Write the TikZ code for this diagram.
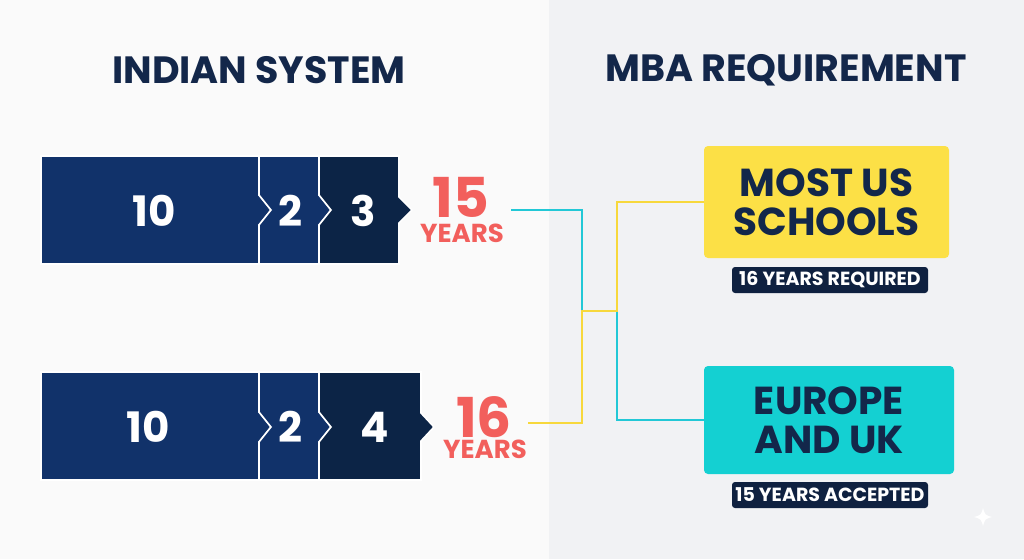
\documentclass[tikz,border=0pt]{standalone}
\usepackage{fontspec}
\setmainfont{Poppins}
\definecolor{bgL}{HTML}{FAFAFA}
\definecolor{bgR}{HTML}{F1F2F4}
\definecolor{navyA}{HTML}{11326A}
\definecolor{navyB}{HTML}{0C2446}
\definecolor{ink}{HTML}{13274A}
\definecolor{coral}{HTML}{F25F5C}
\definecolor{cyanL}{HTML}{22C8D6}
\definecolor{yelL}{HTML}{F7D83C}
\definecolor{yelBox}{HTML}{FCE046}
\definecolor{cyBox}{HTML}{14D0D2}
\definecolor{pill}{HTML}{0F2140}
\tikzset{
  segA/.style={fill=navyA,draw=white,line width=1.6pt,line join=miter},
  segB/.style={fill=navyB,draw=white,line width=1.6pt,line join=miter},
  digit/.style={text=white,font=\bfseries\fontsize{42}{42}\selectfont,inner sep=0pt},
  title/.style={text=ink,font=\bfseries\fontsize{38}{38}\selectfont,inner sep=0pt},
  bignum/.style={text=coral,inner sep=0pt,text depth=0pt,text height=38pt,font=\bfseries\fontsize{55}{55}\selectfont},
  yrs/.style={text=coral,inner sep=0pt,text depth=0pt,text height=18pt,font=\bfseries\fontsize{26}{26}\selectfont},
  boxY/.style={fill=yelBox,rounded corners=4pt,minimum width=245pt,minimum height=112pt,inner sep=0pt,text=ink,align=center,font=\bfseries\fontsize{39}{39}\selectfont},
  boxC/.style={fill=cyBox,rounded corners=4pt,minimum width=250pt,minimum height=108pt,inner sep=0pt,text=ink,align=center,font=\bfseries\fontsize{39}{39}\selectfont},
  tag/.style={fill=pill,rounded corners=3pt,minimum width=196pt,minimum height=26pt,inner sep=0pt,text=white,font=\bfseries\fontsize{19}{19}\selectfont},
  link/.style={line width=1.5pt}
}
\begin{document}
\begin{tikzpicture}[x=1pt,y=-1pt]
\useasboundingbox (0,0) rectangle (1024,559);
\fill[bgL] (0,0) rectangle (549,559);
\fill[bgR] (549,0) rectangle (1024,559);
% titles
\node[title] (t1) at (259,70) {INDIAN SYSTEM};
\node[title] (t2) at (786,70) {MBA REQUIREMENT};
% top bar
\path[segA] (41,156) -- (259,156) -- (259,195) -- (271,210) -- (259,225) -- (259,264) -- (41,264) -- cycle;
\path[segA] (259,156) -- (319,156) -- (319,195) -- (331,210) -- (319,225) -- (319,264) -- (259,264) -- (259,225) -- (271,210) -- (259,195) -- cycle;
\path[segB] (319,156) -- (399,156) -- (399,197) -- (412,210) -- (399,223) -- (399,264) -- (319,264) -- (319,225) -- (331,210) -- (319,195) -- cycle;
\node[digit] (a10) at (154,211) {10};
\node[digit] (a2) at (290,211) {2};
\node[digit] (a3) at (363,211) {3};
% bottom bar
\path[segA] (41,372) -- (259,372) -- (259,412) -- (271,427) -- (259,442) -- (259,480) -- (41,480) -- cycle;
\path[segA] (259,372) -- (319,372) -- (319,412) -- (331,427) -- (319,442) -- (319,480) -- (259,480) -- (259,442) -- (271,427) -- (259,412) -- cycle;
\path[segB] (319,372) -- (421,372) -- (421,413) -- (434,427) -- (421,441) -- (421,480) -- (319,480) -- (319,442) -- (331,427) -- (319,412) -- cycle;
\node[digit] (b10) at (148,427) {10};
\node[digit] (b2) at (290,427) {2};
\node[digit] (b4) at (375,427) {4};
% totals
\node[bignum,anchor=base] (n15) at (461,217) {15};
\node[yrs,anchor=base] (y15) at (462,242) {YEARS};
\node[bignum,anchor=base] (n16) at (484,437) {16};
\node[yrs,anchor=base] (y16) at (485,458) {YEARS};
% boxes
\node[boxY] (us) at (826.5,202) {MOST US\\SCHOOLS};
\node[tag] (usr) at (830,280) {16 YEARS REQUIRED};
\node[boxC] (eu) at (829,420) {EUROPE\\AND UK};
\node[tag] (eur) at (830,495) {15 YEARS ACCEPTED};
% connectors
\coordinate (c15) at (511,210);
\coordinate (c16) at (528,423);
\coordinate (j1) at (582,311);
\coordinate (j2) at (617,311);
\draw[link,cyanL] (c15) -| (j1) -- (j2) |- (eu.west);
\draw[link,yelL] (c16) -| (j1) -- (j2) |- (us.west);
% sparkle
\fill[white] (983,508) .. controls (985,515) .. (992,517) .. controls (985,519) .. (983,526) .. controls (981,519) .. (974,517) .. controls (981,515) .. cycle;
\end{tikzpicture}
\end{document}
